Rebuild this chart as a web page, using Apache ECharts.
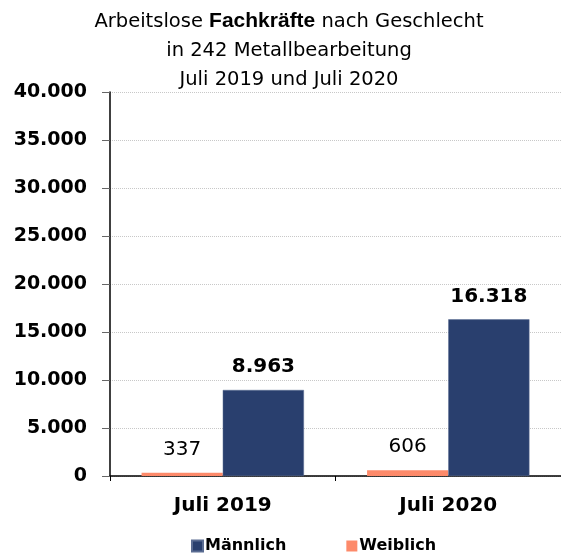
<!DOCTYPE html>
<html>
<head>
<meta charset="utf-8">
<script src="https://cdn.jsdelivr.net/npm/echarts@6/dist/echarts.min.js"></script>
<style>
  html, body { margin: 0; padding: 0; background: #fff; }
  #chart { width: 561px; height: 559px; }
</style>
</head>
<body>
<div id="chart"></div>
<script>
// Daten
const categories = ["Juli 2019", "Juli 2020"];
const maennlich = [8963, 16318];
const weiblich = [337, 606];
const yTicks = [0, 5000, 10000, 15000, 20000, 25000, 30000, 35000, 40000];

const fmt = (v) => String(v).replace(/\B(?=(\d{3})+(?!\d))/g, ".");

const myChart = echarts.init(document.getElementById("chart"));
const option = {
  animation: false,
  backgroundColor: "#fff",
  title: {
    text: "{n|Arbeitslose }{b|Fachkräfte}{n| nach Geschlecht}\n{n|in 242 Metallbearbeitung}\n{n|Juli 2019 und Juli 2020}",
    left: 284,
    top: 2,
    textAlign: "center",
    textStyle: {
      fontWeight: "normal",
      fontFamily: "DejaVu Sans",
      fontSize: 20,
      rich: {
        n: { fontFamily: "DejaVu Sans", fontWeight: "normal", fontSize: 19.5, color: "#000", lineHeight: 29 },
        b: { fontFamily: "Liberation Sans", fontWeight: "bold", fontSize: 21, color: "#000", lineHeight: 29 }
      }
    }
  },
  legend: {
    data: ["Männlich", "Weiblich"],
    bottom: 0,
    left: 186,
    itemWidth: 11,
    itemHeight: 11,
    itemGap: 60,
    icon: "rect",
    textStyle: { fontFamily: "DejaVu Sans", fontWeight: "bold", fontSize: 16, color: "#000", padding: [0, 0, 0, -3] }
  },
  grid: { left: 110, right: -7, top: 92, bottom: 83 },
  xAxis: {
    type: "category",
    data: categories,
    axisLine: { lineStyle: { color: "#000", width: 1.5 } },
    axisTick: { show: true, length: 5, lineStyle: { color: "#000" } },
    axisLabel: { margin: 20, fontFamily: "DejaVu Sans", fontWeight: "bold", fontSize: 20, color: "#000" }
  },
  yAxis: {
    type: "value",
    min: yTicks[0],
    max: yTicks[yTicks.length - 1],
    interval: yTicks[1] - yTicks[0],
    axisLine: { show: true, lineStyle: { color: "#000", width: 1.5 } },
    axisTick: { show: true, length: 8, lineStyle: { color: "#666" } },
    splitLine: { lineStyle: { color: "#c8c8c8", type: "dotted" } },
    axisLabel: {
      margin: 23,
      fontFamily: "DejaVu Sans",
      fontWeight: "bold",
      fontSize: 19,
      color: "#000",
      formatter: fmt
    }
  },
  series: [
    {
      name: "Weiblich",
      type: "bar",
      data: weiblich,
      barGap: 0,
      barCategoryGap: "28%",
      itemStyle: { color: "#fd8a6a" },
      label: {
        show: true,
        position: "top",
        distance: 13,
        fontFamily: "DejaVu Sans",
        fontSize: 20,
        color: "#000",
        formatter: (p) => fmt(p.value)
      }
    },
    {
      name: "Männlich",
      type: "bar",
      data: maennlich,
      barGap: 0,
      barCategoryGap: "28%",
      itemStyle: { color: "#293f6e", borderColor: "#5a6c92", borderWidth: 0.5 },
      label: {
        show: true,
        position: "top",
        distance: 13,
        fontFamily: "DejaVu Sans",
        fontWeight: "bold",
        fontSize: 20,
        color: "#000",
        formatter: (p) => fmt(p.value)
      }
    }
  ]
};
myChart.setOption(option);
</script>
</body>
</html>
